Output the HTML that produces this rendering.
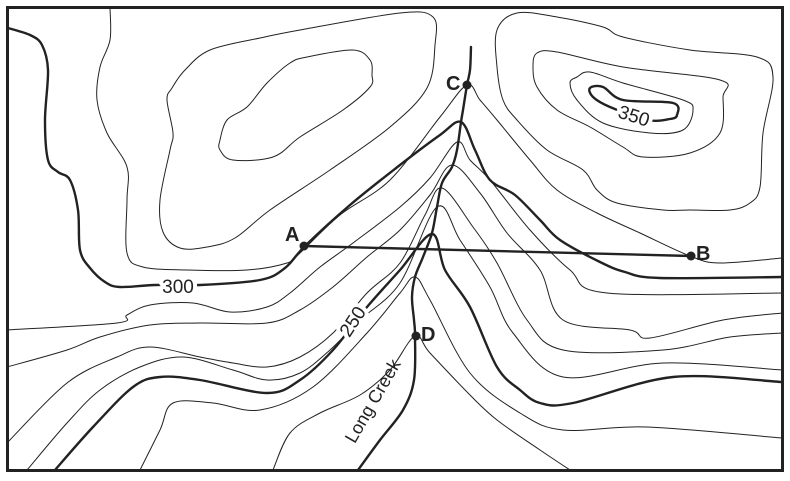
<!DOCTYPE html>
<html><head><meta charset="utf-8"><style>
html,body{margin:0;padding:0;background:#fff}
svg{display:block}
text{font-family:"Liberation Sans",sans-serif;fill:#222}
.t{fill:none;stroke:#222;stroke-width:1;stroke-linejoin:round;stroke-linecap:round}
.k{fill:none;stroke:#222;stroke-width:2.4;stroke-linejoin:round;stroke-linecap:round}
.lbl{font-size:19px;paint-order:stroke;stroke:#fff;stroke-width:8px;stroke-linejoin:round}
.pt{font-size:20px;font-weight:bold}
</style></head><body>
<svg id="m" width="790" height="481" viewBox="0 0 790 481" xmlns="http://www.w3.org/2000/svg">
<rect x="0" y="0" width="790" height="481" fill="#fff"/>
<polyline class="t" points="400,13 433,17 435,45 427,88 390,127 330,170 270,210 235,238 207,247 180,248 163,232 160,200 170,150 173,133 167,100 172,88 185,70 210,50 260,38 300,30 400,13"/>
<polyline class="t" points="353,50 370,60 372,75 370,87 343,110 300,137 273,157 233,160 220,150 220,140 227,120 247,107 267,83 290,63 307,57 353,50"/>
<polyline class="t" points="497,30 517,13 557,17 603,27 623,37 690,50 757,57 773,77 763,133 760,187 750,203 730,210 690,210 663,210 617,203 597,190 583,170 547,150 517,120 503,100 497,67 497,30"/>
<polyline class="t" points="537,53 557,52 623,67 720,80 723,97 720,133 690,153 643,157 623,147 590,127 557,110 537,87 533,67 537,53"/>
<polyline class="t" points="577,77 590,72 623,83 683,100 693,110 683,130 650,133 603,123 577,100 570,83 577,77"/>
<polyline class="k" points="590,88 603,87 623,100 673,103 677,115 670,119 647,120 610,107 593,97 590,88"/>
<polyline class="t" points="110,8 110,40 100,67 97,100 107,133 127,167 127,200 127,253 143,267 187,270 247,270 287,263 300,253 340,215 390,180 440,117 467,85 480,100 497,120 530,160 557,190 597,213 640,233 690,256 720,263 782,258"/>
<polyline class="k" points="8,28 30,35 42,45 48,70 45,120 48,160 58,172 70,180 78,210 80,250 90,268 105,282 120,287 155,285 200,285 260,280 285,268 305,246 350,205 400,165 440,135 461,122 475,150 490,180 515,195 540,220 560,240 600,262 625,272 660,278 782,277"/>
<polyline class="t" points="7,330 117,323 127,315 150,305 193,303 230,312 267,307 290,293 320,267 353,243 400,207 430,178 457,142 470,160 490,180 530,230 570,270 607,293 782,293"/>
<polyline class="t" points="7,367 67,350 100,337 150,325 200,323 267,323 300,310 333,287 367,257 400,230 430,195 452,165 480,193 507,233 540,270 563,320 630,330 650,338 723,320 782,313"/>
<polyline class="t" points="7,443 67,383 117,357 150,347 200,357 233,363 267,367 300,357 333,333 367,293 400,263 425,215 442,188 473,227 497,263 527,320 563,350 663,350 730,337 782,333"/>
<polyline class="t" points="27,470 67,423 100,390 140,367 183,357 233,370 267,380 300,373 330,350 360,320 400,283 437,207 460,240 490,287 513,333 563,377 663,363 782,370"/>
<polyline class="k" points="55,470 93,427 133,387 160,377 200,380 267,393 300,380 333,350 367,307 400,270 432,234 445,270 470,307 497,367 520,390 540,403 573,403 673,377 782,382"/>
<polyline class="t" points="140,470 160,430 173,403 213,403 260,410 313,387 367,333 400,293 415,277 430,300 470,373 520,413 563,430 647,427 782,438"/>
<polyline class="t" points="273,470 290,433 320,413 360,395 390,370 415,336 430,353 470,395 497,420 540,450 570,470"/>
<polyline class="k" points="471,47 470,70 467,85 463,110 461,122 457,150 452,167 442,183 437,207 432,233 423,257 415,277 412,297 414,320 415,336 414,380 403,410 380,440 358,470"/>
<line x1="304" y1="246" x2="691" y2="256" stroke="#222" stroke-width="2.4"/>
<circle cx="304" cy="246" r="4.5" fill="#222"/>
<circle cx="691" cy="256" r="4.5" fill="#222"/>
<circle cx="467" cy="85" r="4.5" fill="#222"/>
<circle cx="416" cy="336" r="4.5" fill="#222"/>
<text class="pt" x="285" y="241">A</text>
<text class="pt" x="696" y="260">B</text>
<text class="pt" x="446" y="90">C</text>
<text class="pt" x="421" y="341">D</text>
<text class="lbl" x="178" y="293" text-anchor="middle">300</text>
<text class="lbl" x="0" y="0" text-anchor="middle" transform="translate(358,325) rotate(-57)">250</text>
<text class="lbl" x="0" y="0" text-anchor="middle" transform="translate(632,122) rotate(18)">350</text>
<text class="lbl" x="0" y="0" text-anchor="middle" style="stroke-width:0;font-size:18px" transform="translate(378,404) rotate(-60)">Long Creek</text>
<rect x="7.5" y="7.5" width="775" height="463" fill="none" stroke="#222" stroke-width="3"/>
</svg>
<script>
(function(){
var svg=document.getElementById('m');
var pls=svg.querySelectorAll('polyline');
for(var i=0;i<pls.length;i++){
 var pl=pls[i];
 var pts=pl.getAttribute('points').trim().split(/\s+/).map(function(s){var a=s.split(',');return [+a[0],+a[1]];});
 var closed=pts.length>3&&pts[0][0]==pts[pts.length-1][0]&&pts[0][1]==pts[pts.length-1][1];
 var n=pts.length;
 function P(j){if(closed){var m=n-1;j=((j%m)+m)%m;return pts[j];}return pts[Math.max(0,Math.min(n-1,j))];}
 var d='M'+pts[0][0]+','+pts[0][1];
 for(var j=0;j<n-1;j++){
  var p0=P(j-1),p1=P(j),p2=P(j+1),p3=P(j+2);
  var t=1/6;
  d+=' C'+(p1[0]+(p2[0]-p0[0])*t).toFixed(1)+','+(p1[1]+(p2[1]-p0[1])*t).toFixed(1)+' '+
     (p2[0]-(p3[0]-p1[0])*t).toFixed(1)+','+(p2[1]-(p3[1]-p1[1])*t).toFixed(1)+' '+p2[0]+','+p2[1];
 }
 var path=document.createElementNS('http://www.w3.org/2000/svg','path');
 path.setAttribute('d',d);path.setAttribute('class',pl.getAttribute('class'));
 pl.parentNode.replaceChild(path,pl);
}
})();
</script>
</body></html>
